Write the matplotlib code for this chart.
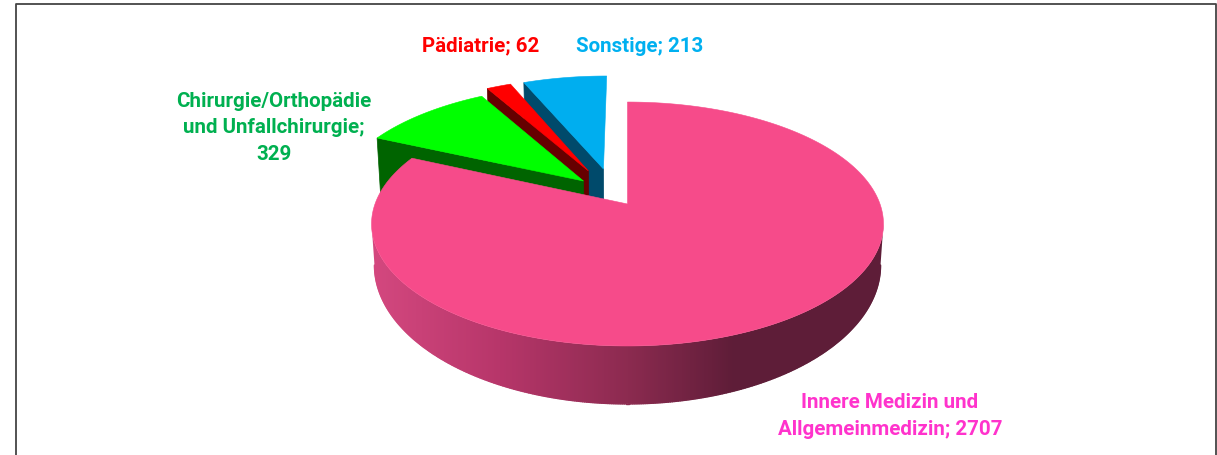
import matplotlib
matplotlib.use("Agg")
import matplotlib.pyplot as plt
from matplotlib.colors import LinearSegmentedColormap
from matplotlib.patches import Polygon
import numpy as np

# data
labels = ["Innere Medizin und\nAllgemeinmedizin; 2707",
          "Chirurgie/Orthopädie\nund Unfallchirurgie;\n329",
          "Pädiatrie; 62",
          "Sonstige; 213"]
values = [2707, 329, 62, 213]

top_colors = ["#f64b8a", "#00ff00", "#ff0000", "#00aeef"]
wall_colors = ["#a8305c", "#006400", "#660000", "#004a6b"]
text_colors = ["#ff33cc", "#00b050", "#ff0000", "#00b0f0"]

# slice offset on the disc (u, v), fitted to the picture
offsets = [(0, 0), (-0.18, 0.20), (-0.162, 0.291), (-0.10, 0.31)]
label_pos = [(890, 416), (274, 128), (481, 46), (639.5, 47)]

# perspective of the disc, pixels
cx, cy = 627.5, 205
sx, sy = 252.5, 118.7
k = 0.164
# bottom of the cut faces
shrink = 0.985
depth = 60
# bottom rim of the outer wall
rim_y, rim_sx, rim_sy = 243.2, 249.6, 135.2

# shading of the outer wall of the big slice, by screen x
wall_cmap = LinearSegmentedColormap.from_list("wall", [
    (0.0, "#d4487f"), (0.25, "#b7366a"), (0.5, "#8c2b50"),
    (0.71, "#5e1d38"), (1.0, "#5e1d38")])


def project(u, v, bottom=False):
    den = 1 + k * v
    if bottom:
        return cx + shrink * sx * u / den, cy + depth - shrink * sy * v / den
    return cx + sx * u / den, cy - sy * v / den


def rim(t):
    u, v = np.sin(t), np.cos(t)
    den = 1 + k * v
    return cx + rim_sx * u / den, rim_y - rim_sy * v / den


def arc(a0, a1, off):
    t = np.radians(np.linspace(a0, a1, max(int(abs(a1 - a0) * 2), 2)))
    return project(np.sin(t) + off[0], np.cos(t) + off[1])


fig = plt.figure(figsize=(12.17, 4.56), dpi=100)
ax = fig.add_axes([0, 0, 1, 1])

# frame, open at the bottom
ax.plot([16, 16, 1216, 1216], [456, 4.5, 4.5, 456], color="#444444", lw=1.3)

angles = np.cumsum([0] + values) / sum(values) * 360

# back to front: Sonstige, Pädiatrie, Chirurgie, then the big slice
z = 2
for i in [3, 2, 1, 0]:
    a0, a1 = angles[i], angles[i + 1]
    off = offsets[i]
    ax0, ay0 = project(off[0], off[1])

    if i > 0:
        # cut face at the start angle
        t0 = np.radians(a0)
        xt, yt = project(np.sin(t0) + off[0], np.cos(t0) + off[1])
        xb, yb = project(np.sin(t0) + off[0], np.cos(t0) + off[1], bottom=True)
        bx0, by0 = project(off[0], off[1], bottom=True)
        ax.fill([ax0, xt, xb, bx0], [ay0, yt, yb, by0],
                color=wall_colors[i], lw=0.5, zorder=z)
    else:
        # outer wall between the widest points of the two ellipses
        widest = np.degrees(np.arccos(-k))
        t = np.radians(np.linspace(widest, 360 - widest, 400))
        xt, yt = project(np.sin(t), np.cos(t))
        xb, yb = rim(t)
        wall = Polygon(np.c_[np.r_[xt, xb[::-1]], np.r_[yt, yb[::-1]]],
                       closed=True, transform=ax.transData)
        grad = np.linspace(0, 1, 512).reshape(1, -1)
        im = ax.imshow(grad, cmap=wall_cmap, aspect="auto", zorder=z,
                       extent=[372, 884, 456, 0])
        im.set_clip_path(wall)
        # soft lower edge
        for j in range(0, len(xb) - 1):
            c = wall_cmap((0.5 * (xb[j] + xb[j + 1]) - 372) / 512)
            ax.plot(xb[j:j + 2], yb[j:j + 2], color=c, lw=1, zorder=z,
                    solid_capstyle="round")

    xs, ys = arc(a0, a1, off)
    ax.fill(np.r_[ax0, xs], np.r_[ay0, ys], color=top_colors[i], lw=0.4,
            zorder=z + 1)
    z += 2

# labels
for i, lab in enumerate(labels):
    ax.text(label_pos[i][0], label_pos[i][1], lab, color=text_colors[i],
            family="Roboto", fontweight="bold", fontsize=14.8,
            ha="center", va="center", linespacing=1.5, zorder=20)

ax.set_xlim(0, 1217)
ax.set_ylim(456, 0)
ax.axis("off")

fig.savefig("out.png", dpi=100)
